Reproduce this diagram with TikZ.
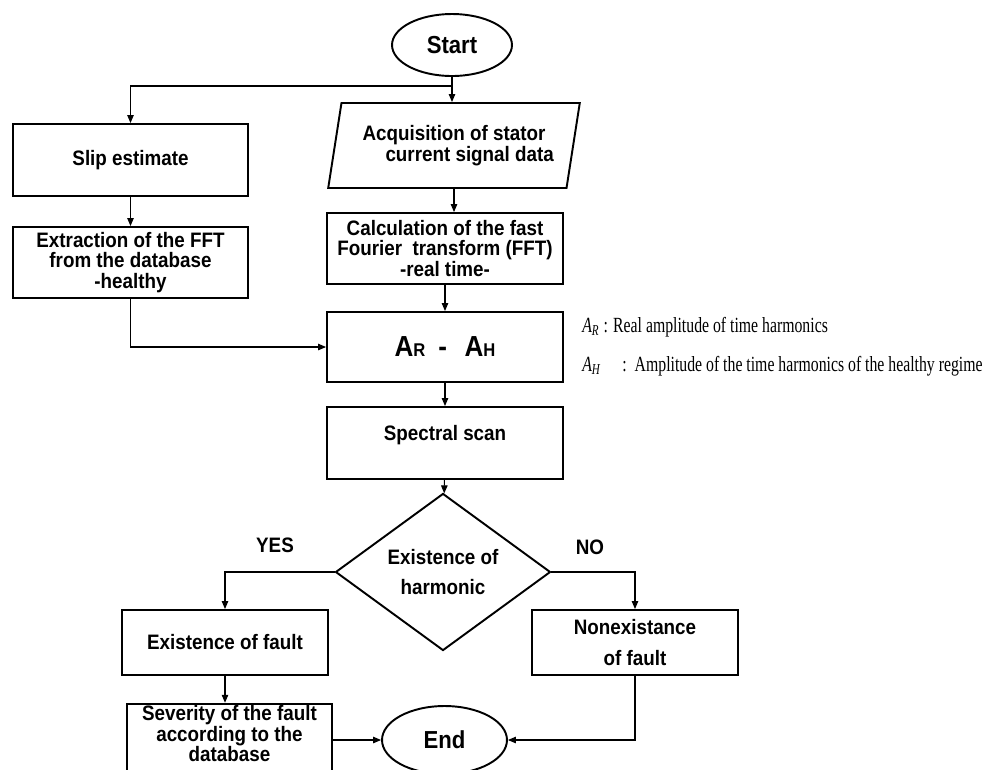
\documentclass[tikz,border=0pt]{standalone}
\usepackage{fontspec}
\setmainfont{Liberation Sans}[FakeStretch=0.9]
\newfontfamily\legendfont{Liberation Serif}[FakeStretch=0.73]
\usetikzlibrary{shapes.geometric,arrows.meta}

\begin{document}
\begin{tikzpicture}[x=0.02cm,y=-0.02cm,
  every node/.style={font=\fontsize{11.9}{11.6}\selectfont\bfseries,align=center},
  box/.style={draw,line width=1.1pt,rectangle,minimum width=4.72cm,minimum height=1.42cm,inner sep=1pt},
  term/.style={draw,line width=1.1pt,ellipse,minimum width=2.4cm,minimum height=1.24cm,font=\fontsize{14}{14}\selectfont\bfseries},
  io/.style={draw,line width=1.1pt,trapezium,trapezium left angle=73.6,trapezium right angle=106.4,trapezium stretches=true,minimum width=5.04cm,minimum height=1.7cm,inner sep=0pt},
  decision/.style={draw,line width=1.1pt,diamond,minimum width=4.3cm,minimum height=2.96cm,inner sep=0pt},
  flow/.style={line width=0.6pt,-{Triangle[length=1.6mm,width=1.3mm]}},
  legend/.style={anchor=west,inner sep=0pt,font=\legendfont\fontsize{12.3}{12.3}\selectfont}]
\useasboundingbox (0,0) rectangle (992,769);
\clip (0,0) rectangle (992,769);

% main column
\node[term] (start) at (452,45) {Start};
\node[io] (acq) at (454,145.5) {Acquisition of stator\\ \hspace*{1.5em}current signal data};
\node[box] (calc) at (445,248.5) {Calculation of the fast\\ Fourier\ \ transform (FFT)\\ -real time-};
\node[box,minimum height=1.4cm,font=\fontsize{16.5}{16.5}\selectfont\bfseries] (arh) at (445,347)
  {A{\fontsize{10.5}{10.5}\selectfont R}\hspace{0.45em}-\hspace{0.6em}A{\fontsize{10.5}{10.5}\selectfont H}};
\node[box,minimum height=1.44cm,text depth=0.4cm] (scan) at (445,443) {Spectral scan};
\node[decision] (check) at (443,572) {Existence of\\[0.5em] harmonic};

% left column
\node[box,minimum width=4.7cm,minimum height=1.44cm] (slip) at (130.5,160) {Slip estimate};
\node[box,minimum width=4.7cm] (extract) at (130.5,262.5) {Extraction of the FFT\\ from the database\\ -healthy};

% branches
\node[box,minimum width=4.12cm,minimum height=1.3cm] (fault) at (225,642.5) {Existence of fault};
\node[box,minimum width=4.12cm,minimum height=1.3cm] (nofault) at (635,642.5) {Nonexistance\\[0.5em] of fault};
\node[box,minimum width=4.1cm,minimum height=1.4cm] (severity) at (229.5,740) {Severity of the fault\\ according to the\\ database\\[-0.35em]};
\node[term,minimum width=2.5cm,minimum height=1.36cm] (done) at (444.5,740) {End};
\node (yes) at (275,545) {YES};
\node (no) at (590,547) {NO};

% legend
\node[legend] (legR) at (582,327) {{\itshape A}\textsubscript{\itshape R} : Real amplitude of time harmonics};
\node[legend] (legH) at (582,366) {{\itshape A}\textsubscript{\itshape H}\quad:\ \ Amplitude of the time harmonics of the healthy regime};

\coordinate (split) at (452,86);
\draw[flow] (start.south) -- (start.south |- acq.north);
\draw[flow] (split) -| (slip.north);
\draw[flow] (slip) -- (extract);
\draw[flow] (acq.south) -- (acq.south |- calc.north);
\draw[flow] (calc) -- (arh);
\draw[flow] (extract.south) |- (arh.west);
\draw[flow] (arh) -- (scan);
\draw[flow] (scan) -- (check);
\draw[flow] (check.west) -| (fault.north);
\draw[flow] (check.east) -| (nofault.north);
\draw[flow] (fault.south) -- (fault.south |- severity.north);
\draw[flow] (severity.east |- done.west) -- (done.west);
\draw[flow] (nofault.south) |- (done.east);
\end{tikzpicture}
\end{document}
